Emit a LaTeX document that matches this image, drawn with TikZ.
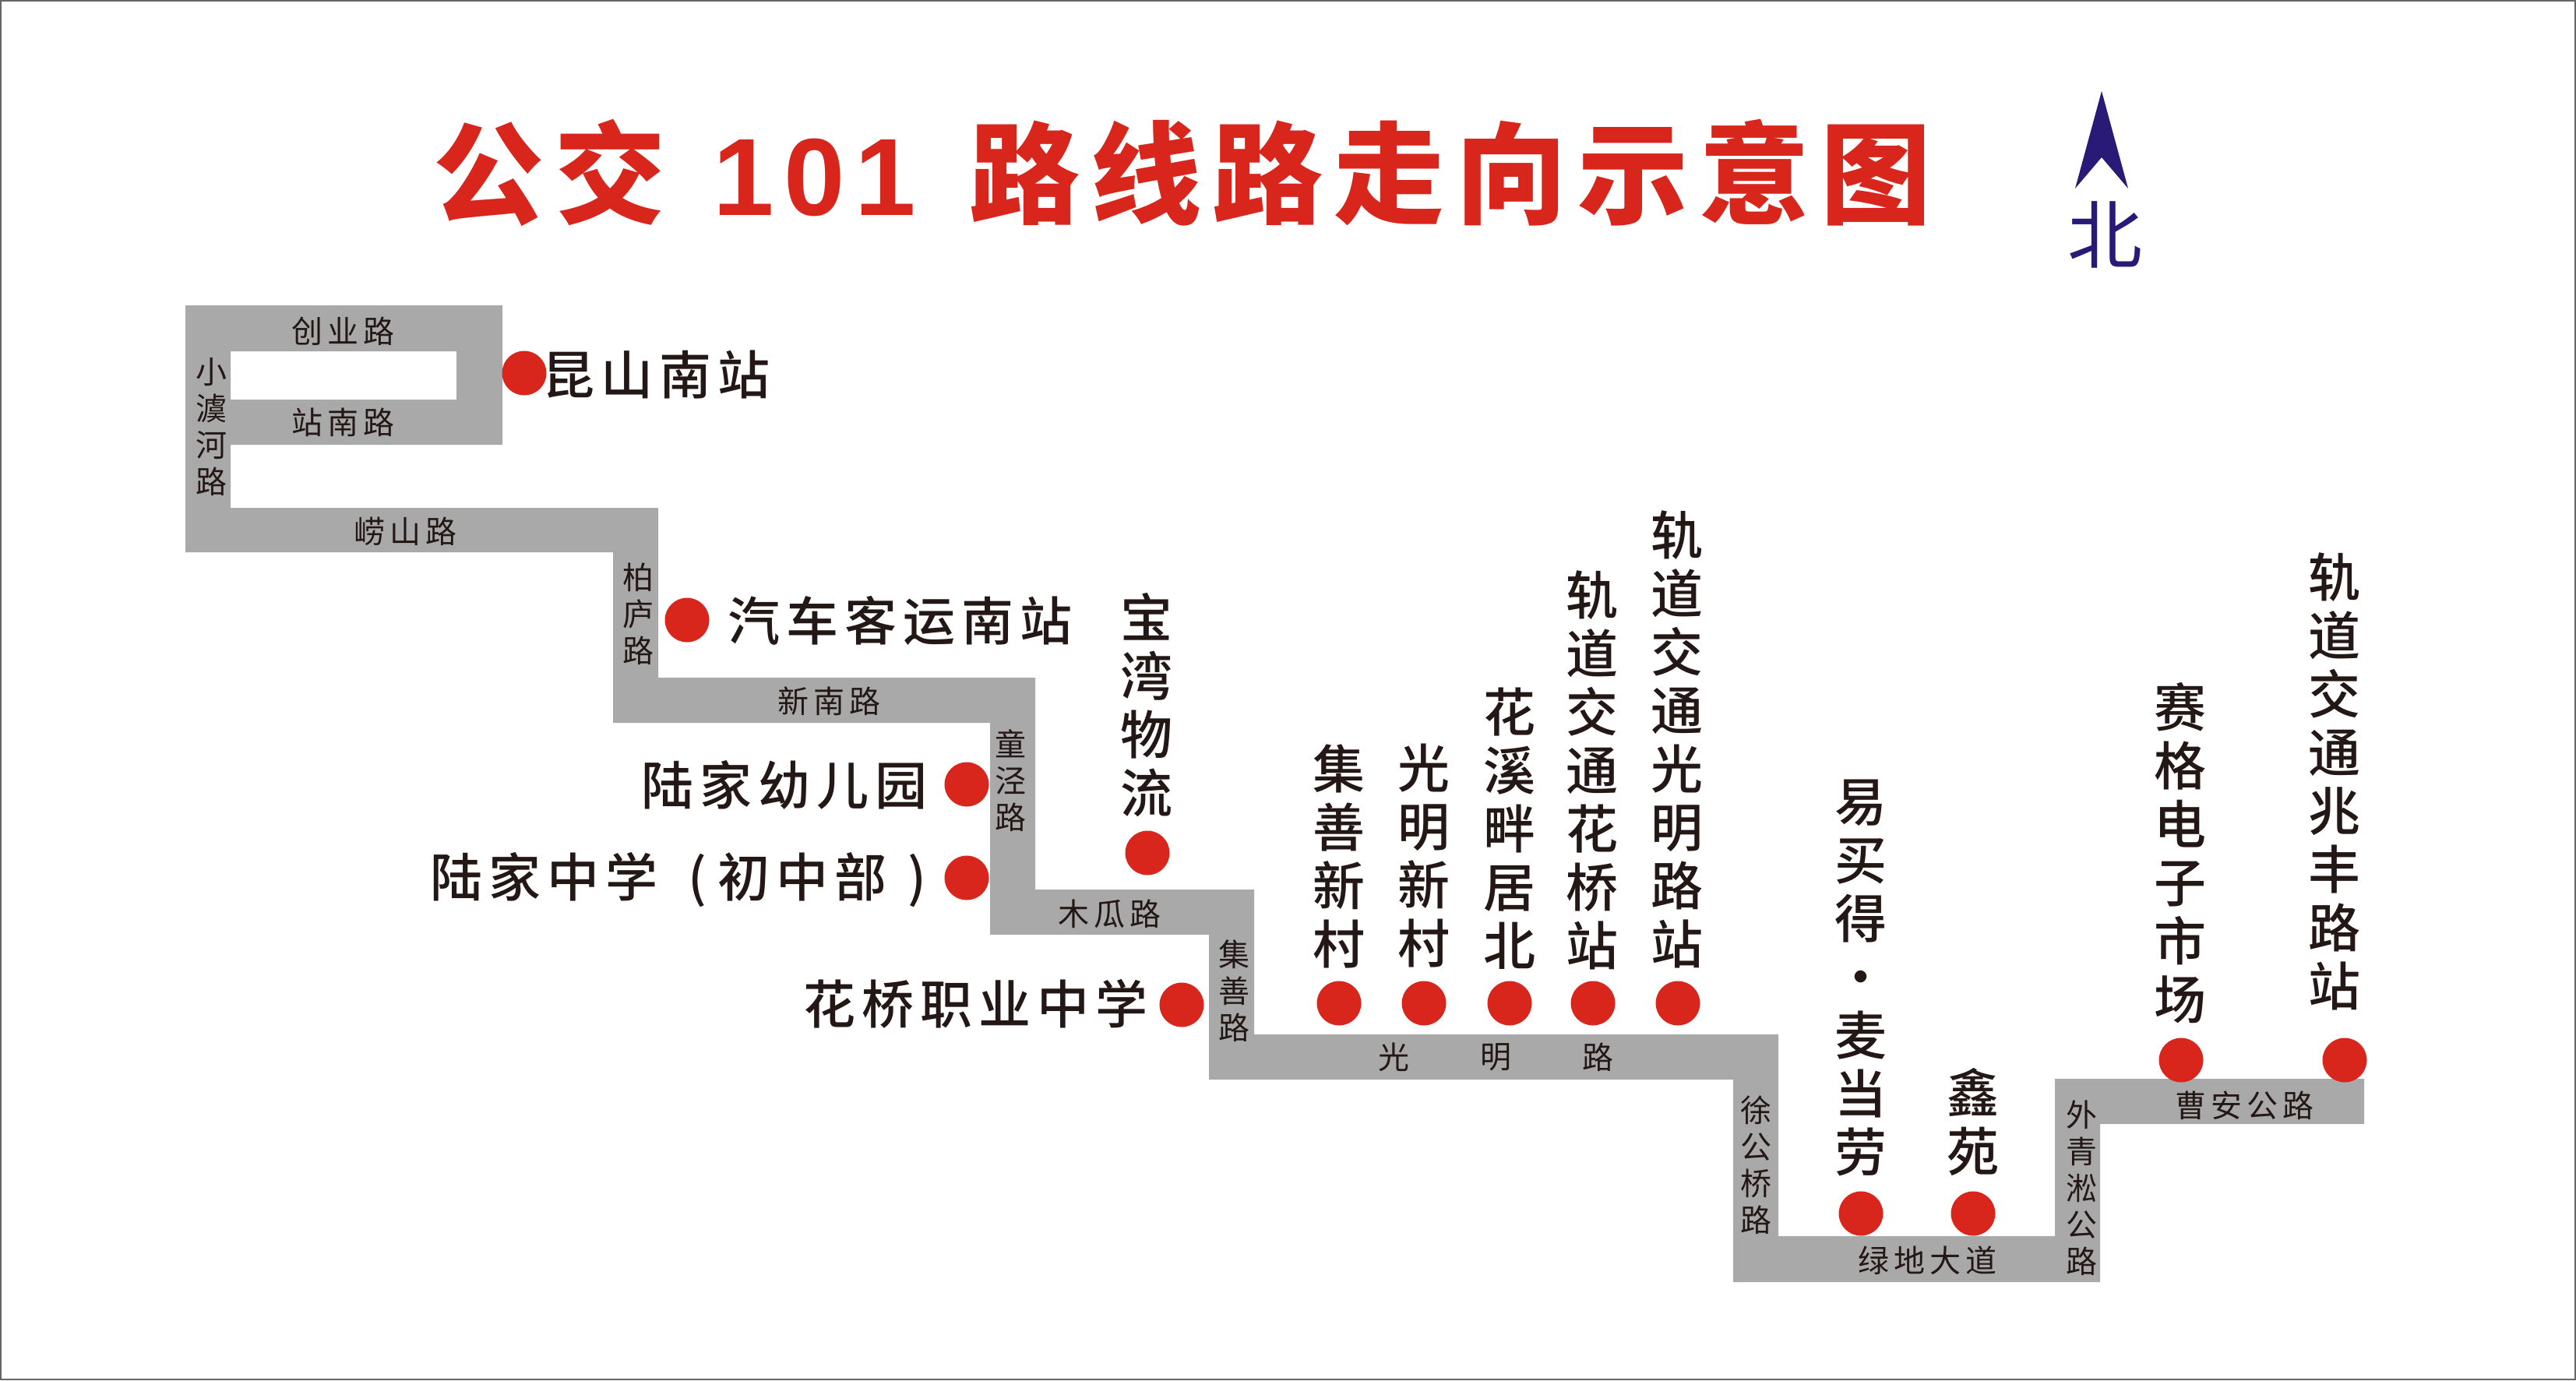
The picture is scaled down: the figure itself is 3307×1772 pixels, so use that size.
\documentclass[tikz,border=0pt]{standalone}
\usepackage{fontspec}
\setmainfont{Noto Sans CJK SC}
\newfontfamily\cjk[LetterSpace=12]{Noto Sans CJK SC Medium}
\newfontfamily\cjksmall[LetterSpace=15]{Noto Sans CJK SC}
\newfontfamily\cjkheavy[LetterSpace=10]{Noto Sans CJK SC Black}
\newfontfamily\titledigits[LetterSpace=9]{Liberation Sans Bold}
\newfontfamily\cjkplain{Noto Sans CJK SC Medium}
\newfontfamily\cjkthin{Noto Sans CJK SC}
\definecolor{road}{HTML}{A9A9A9}
\definecolor{stopred}{HTML}{D9261C}
\definecolor{navy}{HTML}{2A1A78}
\definecolor{ink}{HTML}{231815}
\tikzset{
  x=0.5pt,y=-0.5pt,
  stopdot/.style={circle,fill=stopred,draw=none,minimum size=28.5pt,inner sep=0pt},
  bigh/.style={inner sep=0pt,text=ink,font=\cjk\fontsize{33.5}{37.5}\selectfont},
  bigv/.style={inner sep=0pt,text=ink,align=center,font=\cjkplain\fontsize{33.5}{37.5}\selectfont},
  smallh/.style={inner sep=0pt,text=ink,font=\cjksmall\fontsize{20}{23.5}\selectfont},
  smallv/.style={inner sep=0pt,text=ink,align=center,font=\cjkthin\fontsize{20}{23.5}\selectfont},
}
\begin{document}
\begin{tikzpicture}
\useasboundingbox (0,0) rectangle (3307,1772);
\fill[white] (0,0) rectangle (3307,1772);
\draw[line width=1pt,color=black!60] (1,1) rectangle (3306,1771);
% route
\fill[road,even odd rule]
 (238,392) -- (645,392) -- (645,571) -- (296,571) -- (296,652) -- (845,652) -- (845,870)
 -- (1329,870) -- (1329,1142) -- (1610,1142) -- (1610,1328) -- (2283,1328) -- (2283,1587)
 -- (2638,1587) -- (2638,1385) -- (3035,1385) -- (3035,1443) -- (2696,1443) -- (2696,1646)
 -- (2225,1646) -- (2225,1386) -- (1552,1386) -- (1552,1200) -- (1271,1200) -- (1271,928)
 -- (787,928) -- (787,709) -- (238,709) -- cycle
 (296,451) -- (586,451) -- (586,513) -- (296,513) -- cycle;
% title
\node[inner sep=0pt,anchor=west,text=stopred,font=\fontsize{71}{75}\selectfont] (title) at (556,222)
  {{\cjkheavy 公交}\hspace{30.5pt}{\titledigits\fontsize{70.5}{75}\selectfont 101}\hspace{34pt}{\cjkheavy 路线路走向示意图}};
% north arrow
\fill[navy] (2698,117) -- (2732,242) -- (2698,202) -- (2664,242) -- cycle;
\node[inner sep=0pt,text=navy,font=\cjkthin\fontsize{48}{50}\selectfont] (north) at (2702,301) {北};
% road labels
\node[smallh] (r1) at (440,425) {创业路};
\node[smallh] (r2) at (440,542) {站南路};
\node[smallv] (r3) at (271,548) {\fontsize{20}{26}\selectfont 小\\澞\\河\\路};
\node[smallh] (r4) at (520,682) {崂山路};
\node[smallv] (r5) at (819,788) {柏\\庐\\路};
\node[smallh] (r6) at (1064,900) {新南路};
\node[smallv] (r7) at (1297,1002) {童\\泾\\路};
\node[smallh] (r8) at (1424,1173) {木瓜路};
\node[smallv] (r9) at (1584,1272) {集\\善\\路};
\node[smallh] (r10a) at (1789,1357) {光};
\node[smallh] (r10b) at (1920,1357) {明};
\node[smallh] (r10c) at (2051,1357) {路};
\node[smallv] (r11) at (2254,1496) {徐\\公\\桥\\路};
\node[smallh] (r12) at (2474,1618) {绿地大道};
\node[smallv] (r13) at (2672,1525) {外\\青\\淞\\公\\路};
\node[smallh] (r14) at (2881,1419) {曹安公路};
% stops
\foreach \n/\px/\py in {a/673/479,b/882/796,c/1241/1007,d/1241/1127,e/1473/1095,f/1517/1290,
  g/1719/1288,h/1828/1288,i/1938/1288,j/2045/1288,k/2154/1288,l/2389/1558,m/2533/1558,n/2800/1361,o/3010/1361}
  \node[stopdot] (s\n) at (\px,\py) {};
% horizontal stop names
\node[bigh,anchor=west] (ta) at (696,481) {昆山南站};
\node[bigh,anchor=west] (tb) at (934,797) {汽车客运南站};
\node[bigh,anchor=east] (tc) at (1191,1008) {陆家幼儿园};
\node[bigh,anchor=west] (td) at (552,1130) {陆家中学\hspace{19.5pt}(\hspace{7pt}初中部\hspace{13.5pt})};
\node[bigh,anchor=east] (tf) at (1474,1289) {花桥职业中学};
% vertical stop names
\node[bigv] (te) at (1472,905) {宝\\湾\\物\\流};
\node[bigv] (tg) at (1719,1099) {集\\善\\新\\村};
\node[bigv] (th) at (1828,1099) {光\\明\\新\\村};
\node[bigv] (ti) at (1938,1064) {花\\溪\\畔\\居\\北};
\node[bigv] (tj) at (2044,989) {轨\\道\\交\\通\\花\\桥\\站};
\node[bigv] (tk) at (2153,949) {轨\\道\\交\\通\\光\\明\\路\\站};
\node[bigv] (tl) at (2389,1255) {易\\买\\得\\·\\麦\\当\\劳};
\node[bigv] (tm) at (2533,1440) {鑫\\苑};
\node[bigv] (tn) at (2799,1095) {赛\\格\\电\\子\\市\\场};
\node[bigv] (to) at (2997,1003) {轨\\道\\交\\通\\兆\\丰\\路\\站};
\end{tikzpicture}
\end{document}
